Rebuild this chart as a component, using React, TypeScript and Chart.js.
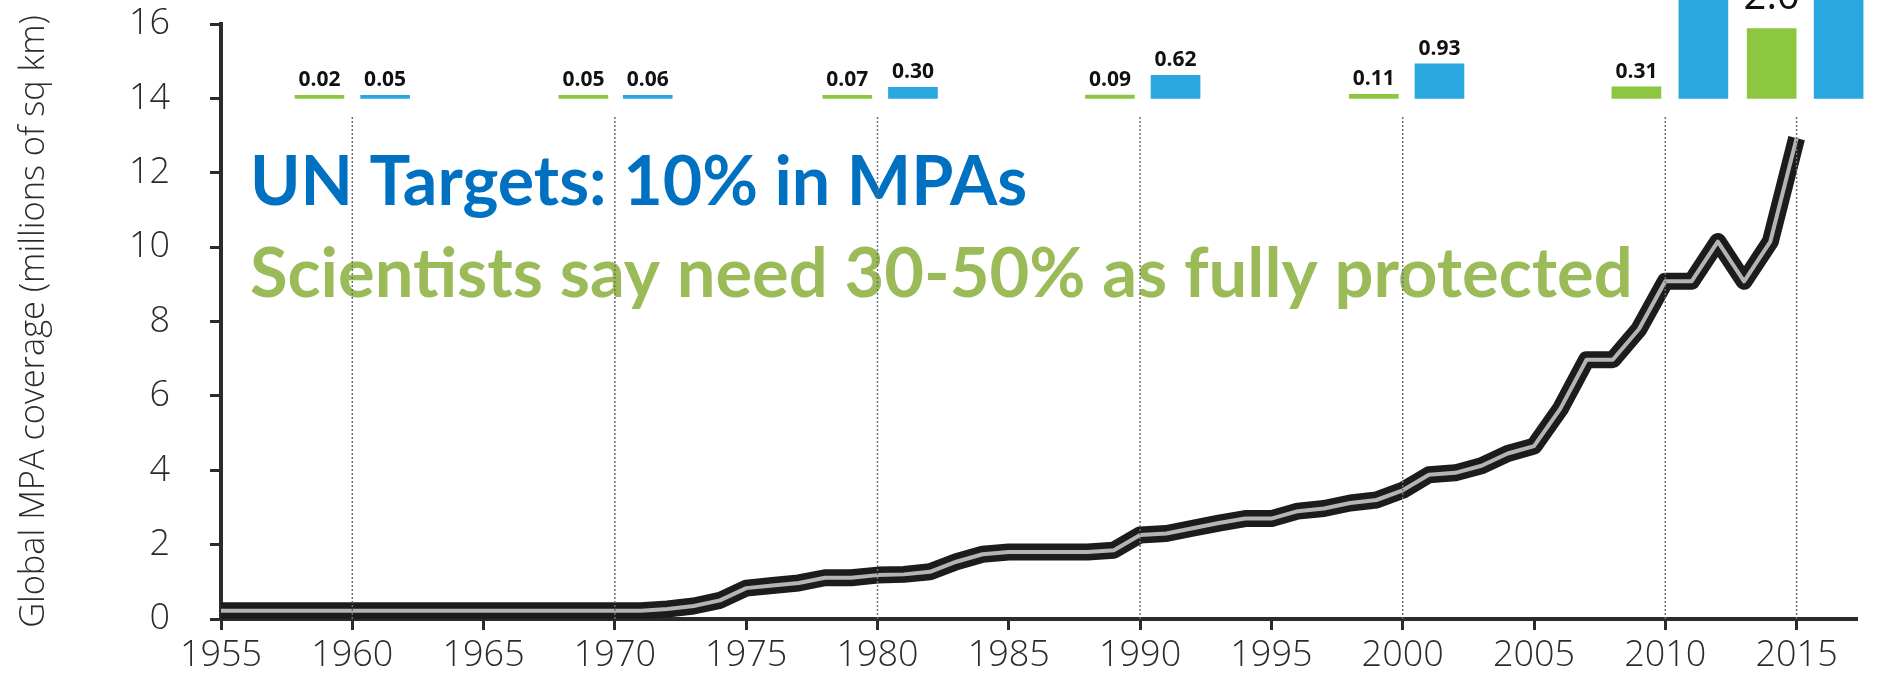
import React, { useEffect, useRef } from 'react';
import { Chart, registerables } from 'chart.js';

Chart.register(...registerables);

// ---------- data ----------
const years = [
  1955, 1956, 1957, 1958, 1959, 1960, 1961, 1962, 1963, 1964,
  1965, 1966, 1967, 1968, 1969, 1970, 1971, 1972, 1973, 1974,
  1975, 1976, 1977, 1978, 1979, 1980, 1981, 1982, 1983, 1984,
  1985, 1986, 1987, 1988, 1989, 1990, 1991, 1992, 1993, 1994,
  1995, 1996, 1997, 1998, 1999, 2000, 2001, 2002, 2003, 2004,
  2005, 2006, 2007, 2008, 2009, 2010, 2011, 2012, 2013, 2014, 2015,
];
const coverage = [
  0.22, 0.22, 0.22, 0.22, 0.22, 0.22, 0.22, 0.22, 0.22, 0.22,
  0.22, 0.22, 0.22, 0.22, 0.22, 0.22, 0.22, 0.27, 0.35, 0.5,
  0.83, 0.9, 0.97, 1.11, 1.11, 1.18, 1.2, 1.27, 1.54, 1.74,
  1.8, 1.8, 1.8, 1.8, 1.85, 2.26, 2.3, 2.44, 2.58, 2.7,
  2.7, 2.9, 2.97, 3.12, 3.2, 3.46, 3.88, 3.93, 4.12, 4.45,
  4.65, 5.65, 6.97, 6.97, 7.8, 9.08, 9.08, 10.15, 9.08, 10.15, 12.93,
];

const markerYears = [1960, 1970, 1980, 1990, 2000, 2010, 2015];
const markerTop = 13.55;

const barBase = 14;
const greenYears = [1958.75, 1968.8, 1978.85, 1988.85, 1998.9, 2008.9, 2014.05];
const greenValues = [0.02, 0.05, 0.07, 0.09, 0.11, 0.31, 1.88];
const greenLabels = ['0.02', '0.05', '0.07', '0.09', '0.11', '0.31', '2.0'];
const blueYears = [1961.25, 1971.25, 1981.35, 1991.35, 2001.4, 2011.45, 2016.6];
const blueValues = [0.05, 0.06, 0.3, 0.62, 0.93, 2.9, 3.6];
const blueLabels = ['0.05', '0.06', '0.30', '0.62', '0.93', '', ''];

const headline = 'UN Targets: 10% in MPAs';
const subline = 'Scientists say need 30-50% as fully protected';
const yTitle = 'Global MPA coverage (millions of sq km)';

// ---------- styling ----------
const AXIS_FONT = '"Open Sans", "DejaVu Sans", sans-serif';
const AXIS_COLOR = '#2b2b2b';
const GREEN = '#8dc63f';
const BLUE = '#29a8e0';

const annotationPlugin = {
  id: 'mpaAnnotations',
  beforeDatasetsDraw(chart: any) {
    const { ctx, scales } = chart;
    const x = scales.x;
    const y = scales.y;
    const drawFitted = (text: string, x0: number, x1: number, yv: number, color: string) => {
      const left = x.getPixelForValue(x0);
      const width = x.getPixelForValue(x1) - left;
      ctx.save();
      ctx.font = 'bold 100px Lato, "Open Sans", sans-serif';
      const w = ctx.measureText(text).width;
      const size = (100 * width) / w;
      ctx.font = `bold ${size}px Lato, "Open Sans", sans-serif`;
      ctx.fillStyle = color;
      ctx.textAlign = 'left';
      ctx.textBaseline = 'alphabetic';
      ctx.fillText(text, left, y.getPixelForValue(yv));
      ctx.restore();
    };
    drawFitted(headline, 1956.1, 1985.7, 11.13, '#0070c0');
    drawFitted(subline, 1956.1, 2008.77, 8.66, '#9bbb59');
  },
  afterDatasetsDraw(chart: any) {
    const { ctx } = chart;
    const drawLabels = (datasetIndex: number, labels: string[]) => {
      const meta = chart.getDatasetMeta(datasetIndex);
      meta.data.forEach((el: any, i: number) => {
        const text = labels[i];
        if (!text) return;
        ctx.save();
        ctx.textAlign = 'center';
        ctx.textBaseline = 'alphabetic';
        ctx.fillStyle = '#111';
        const big = i === labels.length - 1;
        ctx.font = big
          ? 'normal 40px "Open Sans", sans-serif'
          : 'bold 21px "Open Sans", sans-serif';
        ctx.fillText(text, el.x, el.y - (big ? 19 : 9));
        ctx.restore();
      });
    };
    drawLabels(3, greenLabels);
    drawLabels(4, blueLabels);
  },
};

export default function App() {
  const canvasRef = useRef<HTMLCanvasElement | null>(null);

  useEffect(() => {
    if (!canvasRef.current) return;
    const linePts = years.map((yr, i) => ({ x: yr, y: coverage[i] }));
    const markerPts: any[] = [];
    markerYears.forEach((yr) => {
      markerPts.push({ x: yr, y: 0 });
      markerPts.push({ x: yr, y: markerTop });
      markerPts.push({ x: yr, y: null });
    });
    const greenPts = greenYears.map((yr, i) => ({ x: yr, y: [barBase, barBase + greenValues[i]] }));
    const bluePts = blueYears.map((yr, i) => ({ x: yr, y: [barBase, barBase + blueValues[i]] }));

    // size the axis title so it spans the same length as in the reference
    const mctx = document.createElement('canvas').getContext('2d') as CanvasRenderingContext2D;
    mctx.font = `300 100px ${AXIS_FONT}`;
    const titleSize = (100 * 613) / mctx.measureText(yTitle).width;

    const chart = new Chart(canvasRef.current, {
      type: 'line',
      data: {
        datasets: [
          {
            type: 'line',
            label: 'decades',
            data: markerPts,
            borderColor: '#6e6e6e',
            borderWidth: 1.5,
            borderDash: [2, 2],
            pointRadius: 0,
            spanGaps: false,
            order: 0,
          },
          {
            type: 'line',
            label: 'coverage core',
            data: linePts,
            borderColor: '#b4b4b4',
            borderWidth: 4,
            pointRadius: 0,
            tension: 0,
            borderJoinStyle: 'round',
            order: 1,
          },
          {
            type: 'line',
            label: 'coverage',
            data: linePts,
            borderColor: '#1c1c1c',
            borderWidth: 17,
            pointRadius: 0,
            tension: 0,
            borderJoinStyle: 'round',
            order: 2,
          },
          {
            type: 'bar',
            label: 'fully protected',
            data: greenPts,
            backgroundColor: GREEN,
            barThickness: 49,
            grouped: false,
            minBarLength: 3,
            clip: false,
            order: 3,
          },
          {
            type: 'bar',
            label: 'all MPAs',
            data: bluePts,
            backgroundColor: BLUE,
            barThickness: 49,
            grouped: false,
            minBarLength: 3,
            clip: false,
            order: 4,
          },
        ],
      } as any,
      options: {
        animation: false,
        responsive: false,
        devicePixelRatio: 1,
        layout: { padding: { top: 24, right: 27, bottom: 0, left: 0 } },
        plugins: {
          legend: { display: false },
          tooltip: { enabled: false },
        },
        scales: {
          x: {
            type: 'linear',
            min: 1955,
            max: 2017.3,
            offset: false,
            ticks: {
              stepSize: 5,
              includeBounds: false,
              autoSkip: false,
              maxRotation: 0,
              color: AXIS_COLOR,
              padding: 4,
              font: { family: AXIS_FONT, size: 36, weight: '300' },
              callback: (v: any) => String(v),
            },
            grid: {
              drawOnChartArea: false,
              drawTicks: true,
              tickLength: 11,
              tickWidth: 3,
              tickColor: AXIS_COLOR,
              offset: false,
            },
            border: { display: true, color: AXIS_COLOR, width: 4 },
            afterFit: (s: any) => {
              s.height = 58;
            },
          },
          y: {
            type: 'linear',
            min: 0,
            max: 16,
            ticks: {
              stepSize: 2,
              color: AXIS_COLOR,
              padding: 40,
              font: { family: AXIS_FONT, size: 36, weight: '300' },
            },
            grid: {
              drawOnChartArea: false,
              drawTicks: true,
              tickLength: 11,
              tickWidth: 3,
              tickColor: AXIS_COLOR,
            },
            border: { display: true, color: AXIS_COLOR, width: 4 },
            title: {
              display: true,
              text: yTitle,
              color: AXIS_COLOR,
              font: { family: AXIS_FONT, size: titleSize, weight: '300' },
              padding: { top: 14, bottom: 0 },
            },
            afterFit: (s: any) => {
              s.width = 221;
              s.paddingTop = 0;
              s.paddingBottom = 0;
            },
          },
        },
      } as any,
      plugins: [annotationPlugin],
    });
    return () => chart.destroy();
  }, []);

  return (
    <div style={{ position: 'absolute', left: 0, top: 0, width: 1884, height: 677, background: '#fff' }}>
      <canvas ref={canvasRef} width={1884} height={677} style={{ display: 'block' }} />
    </div>
  );
}
